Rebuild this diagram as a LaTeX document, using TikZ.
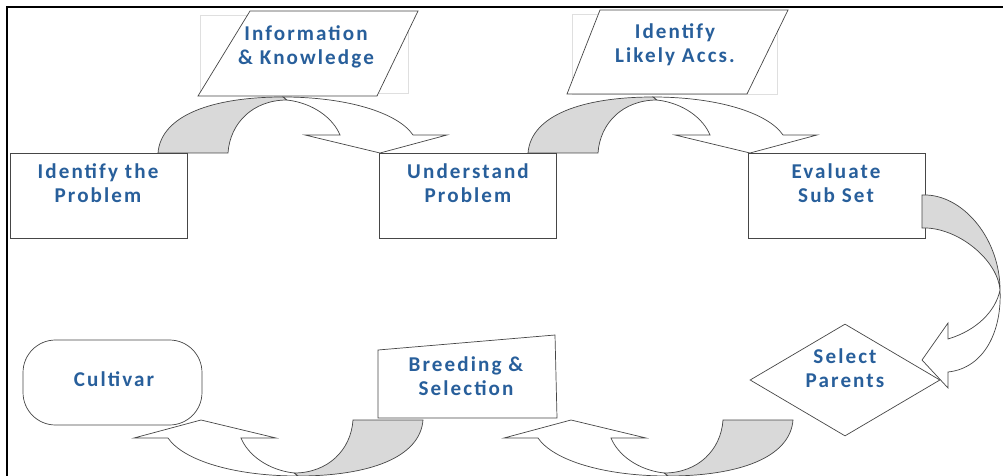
\documentclass[tikz,border=0pt]{standalone}
\usepackage{fontspec}
\newfontfamily\boxfont[LetterSpace=10]{Carlito}
\usepackage{tikz}
\usetikzlibrary{positioning,calc,shapes.geometric,shapes.misc}

\definecolor{txtblue}{RGB}{40,95,155}
\definecolor{backgray}{RGB}{217,217,217}
\definecolor{edgegray}{RGB}{70,70,70}

% one curved block arrow, base at (0,0), bending up and over
\newcommand{\uturnarrow}{%
    \filldraw[face] (0,0) .. controls (3,-38) and (55,-56) .. (125,-56)
        -- (129,-53) .. controls (95,-53) and (72,-30) .. (70,0) -- cycle;
    \filldraw[front] (125,-56) .. controls (190,-56) and (240,-40) .. (255,-18)
        -- (289,-18) -- (222,0) -- (147,-18) -- (182,-18)
        .. controls (175,-35) and (155,-50) .. (129,-53) -- cycle;
}

\begin{document}
\begin{tikzpicture}[x=0.02cm,y=-0.02cm,semithick,
    box/.style={draw=edgegray,thin,fill=white,rectangle,minimum width=3.54cm,minimum height=1.7cm},
    txt/.style={text=txtblue,font=\boxfont\bfseries\fontsize{12}{13.6}\selectfont,align=center,inner sep=0pt},
    face/.style={draw=edgegray,thin,fill=backgray},
    front/.style={draw=edgegray,thin,fill=white},
    faint/.style={draw=gray!25,thin}]

    \useasboundingbox (0,0) rectangle (1003,476);
    \draw[line width=1.3pt] (7,476) -- (7,7) -- (1003,7);

    % boxes along the top
    \node[box](idprob) at (98.5,195.5) {};
    \node[box](undprob) at (468,195.5) {};
    \node[box](evalsub) at (836.5,195.5) {};
    \node[txt](idprobtxt) at (98,183) {Identify the\\Problem};
    \node[txt](undprobtxt) at (468,183) {Understand\\Problem};
    \node[txt](evalsubtxt) at (836,183) {Evaluate\\Sub Set};

    % data inputs
    \draw[faint] (200,15) rectangle (408,93);
    \draw[faint] (572,14) rectangle (777,94);
    \draw[edgegray,thin,fill=white] (250,11) -- (418,11) -- (377,96) -- (198,96) -- cycle;
    \draw[edgegray,thin,fill=white] (600,10) -- (788,10) -- (747,94) -- (567,94) -- cycle;
    \node[txt](infotxt) at (306,47) {Information\\\& Knowledge};
    \node[txt](likelytxt) at (675,45) {Identify\\Likely Accs.};

    % bottom row
    \node[draw=edgegray,thin,rectangle,rounded corners=0.65cm,minimum width=3.58cm,minimum height=1.7cm](cultivar) at (112.5,382.5) {};
    \node[txt](cultivartxt) at (114,379) {Cultivar};
    \draw[edgegray,thin,fill=white] (378,350) -- (555,335) -- (557,418) -- (378,418) -- cycle;
    \node[txt](breedtxt) at (466,376) {Breeding \&\\Selection};

    % curved arrows
    \begin{scope}[shift={(158,153)}]
        \uturnarrow
    \end{scope}
    \begin{scope}[shift={(528,153)}]
        \uturnarrow
    \end{scope}
    \begin{scope}[shift={(793,420)},rotate=180]
        \uturnarrow
    \end{scope}
    \begin{scope}[shift={(423,420)},rotate=180]
        \uturnarrow
    \end{scope}

    % down the right side
    \filldraw[face] (922,195) -- (927,195) .. controls (965,197) and (1000,240) .. (1000,290)
        .. controls (998,262) and (962,230) .. (927,228) -- (922,228) -- cycle;
    \filldraw[front] (1000,290) .. controls (1002,330) and (985,368) .. (948,372)
        -- (948,388) -- (922,360) -- (948,323) -- (948,339)
        .. controls (978,330) and (996,310) .. (1000,290);

    \node[draw=edgegray,thin,diamond,minimum width=3.8cm,minimum height=2.24cm,inner sep=0pt](selpar) at (845,380) {};
    \node[txt](selpartxt) at (845,368) {Select\\Parents};

\end{tikzpicture}
\end{document}
